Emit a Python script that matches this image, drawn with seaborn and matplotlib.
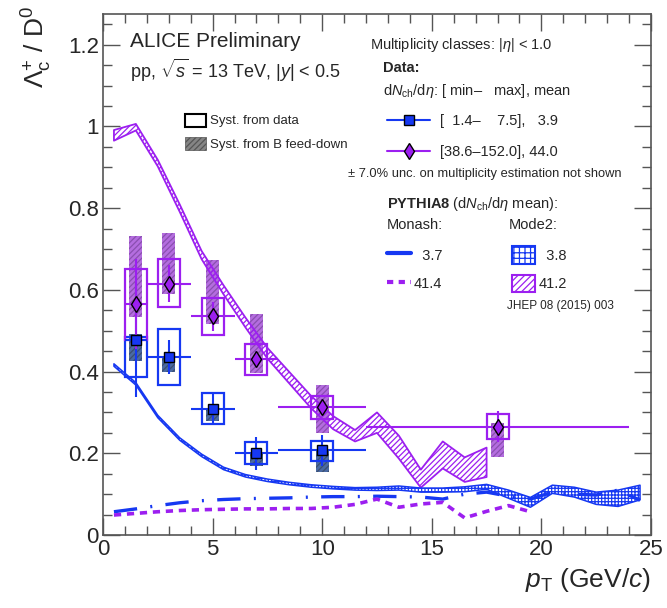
import numpy as np
import pandas as pd
import matplotlib
matplotlib.use("Agg")
import matplotlib.pyplot as plt
import seaborn as sns
from matplotlib.patches import Patch
from matplotlib.lines import Line2D
from matplotlib.ticker import MultipleLocator, FuncFormatter

# ---------------- data ----------------
# low multiplicity class [1.4-7.5], mean 3.9
low_pt = [1.5, 3.0, 5.0, 7.0, 10.0]
low_xerr = [0.5, 1.0, 1.0, 1.0, 2.0]
low_val = [0.477, 0.436, 0.309, 0.200, 0.208]
low_stat = [0.140, 0.042, 0.035, 0.040, 0.038]
low_syst_lo = [0.386, 0.368, 0.271, 0.175, 0.182]
low_syst_hi = [0.484, 0.503, 0.348, 0.227, 0.231]
low_fd_lo = [0.426, 0.400, 0.280, 0.169, 0.155]
low_fd_hi = [0.493, 0.436, 0.309, 0.200, 0.208]

# high multiplicity class [38.6-152.0], mean 44.0
high_pt = [1.5, 3.0, 5.0, 7.0, 10.0, 18.0]
high_xerr = [0.5, 1.0, 1.0, 1.0, 2.0, 6.0]
high_val = [0.566, 0.615, 0.535, 0.431, 0.313, 0.265]
high_stat = [0.110, 0.045, 0.035, 0.020, 0.020, 0.038]
high_syst_lo = [0.478, 0.557, 0.490, 0.391, 0.284, 0.236]
high_syst_hi = [0.652, 0.675, 0.581, 0.467, 0.341, 0.297]
high_fd_lo = [0.534, 0.591, 0.516, 0.396, 0.249, 0.190]
high_fd_hi = [0.732, 0.739, 0.674, 0.542, 0.367, 0.273]

# PYTHIA8 predictions
model_pt = [0.5, 1.5, 2.5, 3.5, 4.5, 5.5, 6.5, 7.5, 8.5, 9.5, 10.5, 11.5,
            12.5, 13.5, 14.5, 15.5, 16.5, 17.5, 18.5, 19.5, 20.5, 21.5,
            22.5, 23.5, 24.5]
# Mode2, 41.2 (band, up to 17.5)
mode2_high = [0.978, 0.998, 0.910, 0.800, 0.685, 0.600, 0.520, 0.445, 0.385,
              0.325, 0.275, 0.243, 0.275, 0.215, 0.138, 0.196, 0.160, 0.178]
mode2_high_err = [0.013, 0.008, 0.008, 0.009, 0.010, 0.011, 0.012, 0.013,
                  0.014, 0.015, 0.016, 0.014, 0.025, 0.028, 0.022, 0.033,
                  0.030, 0.036]
# Mode2, 3.8 (band)
mode2_low = [0.416, 0.370, 0.290, 0.235, 0.195, 0.163, 0.145, 0.134, 0.126,
             0.120, 0.116, 0.113, 0.113, 0.115, 0.110, 0.110, 0.112, 0.118,
             0.100, 0.080, 0.112, 0.105, 0.090, 0.090, 0.104]
mode2_low_err = [0.003, 0.003, 0.003, 0.003, 0.003, 0.003, 0.003, 0.003,
                 0.003, 0.003, 0.003, 0.003, 0.004, 0.005, 0.005, 0.005,
                 0.006, 0.006, 0.010, 0.012, 0.010, 0.012, 0.015, 0.020,
                 0.018]
# Monash, 3.7
monash_low = [0.057, 0.064, 0.072, 0.079, 0.084, 0.087, 0.089, 0.090, 0.091,
              0.093, 0.094, 0.094, 0.095, 0.094, 0.093, 0.088, 0.100, 0.105,
              0.095, 0.088, 0.105, 0.100, 0.098, 0.110, 0.085]
# Monash, 41.4 (up to 19.5)
monash_high = [0.049, 0.053, 0.057, 0.060, 0.062, 0.063, 0.064, 0.064,
               0.065, 0.065, 0.068, 0.075, 0.088, 0.068, 0.076, 0.080,
               0.042, 0.058, 0.072, 0.057]

x_ticks = [0, 5, 10, 15, 20, 25]
y_ticks = [0, 0.2, 0.4, 0.6, 0.8, 1.0, 1.2]

BLUE = "#1638f2"
PURPLE = "#9c1ff0"
BLUE_FD = "#4a6aa3"
PURPLE_FD = "#b46ddf"

# ---------------- style ----------------
sns.set_theme(style="ticks")
plt.rcParams["font.family"] = ["Liberation Sans", "DejaVu Sans"]
plt.rcParams["mathtext.fontset"] = "custom"
plt.rcParams["mathtext.rm"] = "Liberation Sans"
plt.rcParams["mathtext.it"] = "Liberation Sans:italic"
plt.rcParams["mathtext.bf"] = "Liberation Sans:bold"
plt.rcParams["hatch.linewidth"] = 0.9

fig = plt.figure(figsize=(6.67, 6.08), dpi=100)
ax = fig.add_axes([0.1544, 0.12, 0.8216, 0.857])

# ---------------- B feed-down boxes ----------------
ax.bar(low_pt, np.subtract(low_fd_hi, low_fd_lo), bottom=low_fd_lo, width=0.6,
       facecolor=BLUE_FD, edgecolor="#3d4f70", hatch="//////", linewidth=0,
       zorder=2)
ax.bar(high_pt, np.subtract(high_fd_hi, high_fd_lo), bottom=high_fd_lo,
       width=0.6, facecolor=PURPLE_FD, edgecolor="#8a4fb0", hatch="//////",
       linewidth=0, zorder=2)

# ---------------- syst boxes ----------------
ax.bar(low_pt, np.subtract(low_syst_hi, low_syst_lo), bottom=low_syst_lo,
       width=1.0, fill=False, edgecolor=BLUE, linewidth=1.6, zorder=3)
ax.bar(high_pt, np.subtract(high_syst_hi, high_syst_lo), bottom=high_syst_lo,
       width=1.0, fill=False, edgecolor=PURPLE, linewidth=1.6, zorder=3)

# ---------------- PYTHIA Mode2 bands ----------------
n_h = len(mode2_high)
ph = np.array(model_pt[:n_h])
ch = np.array(mode2_high)
eh = np.array(mode2_high_err)
ax.fill_between(ph, ch - eh, ch + eh, facecolor="none", edgecolor=PURPLE,
                hatch="//////", linewidth=1.3, zorder=4)
pl = np.array(model_pt)
cl = np.array(mode2_low)
el = np.array(mode2_low_err)
ax.fill_between(pl, cl - el, cl + el, facecolor="none", edgecolor=BLUE,
                hatch="+++++", linewidth=1.1, zorder=4)

# ---------------- PYTHIA Monash lines ----------------
df_ml = pd.DataFrame({"pt": model_pt, "ratio": monash_low})
df_mh = pd.DataFrame({"pt": model_pt[:len(monash_high)], "ratio": monash_high})
sns.lineplot(data=df_ml, x="pt", y="ratio", ax=ax, color=BLUE, linewidth=2.4,
             linestyle=(0, (7.0, 4.0, 0.6, 4.0)), zorder=4)
sns.lineplot(data=df_mh, x="pt", y="ratio", ax=ax, color=PURPLE,
             linewidth=2.6, linestyle=(0, (2.0, 1.6)), zorder=4)

# ---------------- data points ----------------
ax.errorbar(low_pt, low_val, xerr=low_xerr, yerr=low_stat, fmt="none",
            ecolor=BLUE, elinewidth=1.5, capsize=0, zorder=5)
ax.errorbar(high_pt, high_val, xerr=high_xerr, yerr=high_stat, fmt="none",
            ecolor=PURPLE, elinewidth=1.5, capsize=0, zorder=5)
ax.plot(low_pt, low_val, linestyle="none", marker="s", ms=7.5, mfc=BLUE,
        mec="black", mew=1.0, zorder=6)
ax.plot(high_pt, high_val, linestyle="none", marker="d", ms=8.0, mfc=PURPLE,
        mec="black", mew=1.0, zorder=6)

# ---------------- axes ----------------
ax.set_xlim(0, 25)
ax.set_ylim(0, 1.275)
ax.set_xticks(x_ticks)
ax.set_yticks(y_ticks)
ax.xaxis.set_minor_locator(MultipleLocator(1))
ax.yaxis.set_minor_locator(MultipleLocator(0.05))
fmt = FuncFormatter(lambda v, p: "%g" % round(v, 3))
ax.xaxis.set_major_formatter(fmt)
ax.yaxis.set_major_formatter(fmt)
ax.tick_params(which="both", direction="in", top=True, right=True,
               color="#555555", width=1.0)
ax.tick_params(which="major", length=12, labelsize=16, pad=3)
ax.tick_params(which="minor", length=6.5)
for s in ax.spines.values():
    s.set_color("#555555")
    s.set_linewidth(1.2)
    s.set_visible(True)

ax.set_xlabel(r"$p_{\rm T}$ (GeV/$c$)", fontsize=19, loc="right", labelpad=4)
ax.set_ylabel(r"$\Lambda_{\rm c}^{+}$ / D$^{0}$", fontsize=19, loc="top",
              labelpad=6)
ax.yaxis.set_label_coords(-0.09, 1.015)

# ---------------- texts ----------------
T = ax.transAxes
ax.text(0.049, 0.948, "ALICE Preliminary", transform=T, fontsize=15,
        va="center", ha="left")
ax.text(0.049, 0.891, r"pp, $\sqrt{s}$ = 13 TeV, |$y$| < 0.5", transform=T,
        fontsize=13, va="center", ha="left")
ax.text(0.487, 0.941, r"Multiplicity classes: |$\eta$| < 1.0", transform=T,
        fontsize=10.5, va="center", ha="left")
ax.text(0.511, 0.896, "Data:", transform=T, fontsize=10.5, va="center",
        ha="left", fontweight="bold")
ax.text(0.511, 0.852, r"d$N_{\rm ch}$/d$\eta$: [ min–   max], mean",
        transform=T, fontsize=10.5, va="center", ha="left")
ax.text(0.447, 0.693, "± 7.0% unc. on multiplicity estimation not shown",
        transform=T, fontsize=9.3, va="center", ha="left")
ax.text(0.518, 0.635, r"$\mathbf{PYTHIA8}$ (d$N_{\rm ch}$/d$\eta$ mean):",
        transform=T, fontsize=10.5, va="center", ha="left")
ax.text(0.518, 0.595, "Monash:", transform=T, fontsize=10.5, va="center",
        ha="left")
ax.text(0.741, 0.595, "Mode2:", transform=T, fontsize=10.5, va="center",
        ha="left")
ax.text(0.737, 0.44, "JHEP 08 (2015) 003", transform=T, fontsize=8.5,
        va="center", ha="left")

# ---------------- legends ----------------
leg_syst = ax.legend(
    handles=[Patch(facecolor="white", edgecolor="black", linewidth=1.5),
             Patch(facecolor="#858585", edgecolor="#555555", hatch="//////",
                   linewidth=0.5)],
    labels=["Syst. from data", "Syst. from B feed-down"],
    loc="upper left", bbox_to_anchor=(0.149, 0.809), frameon=False,
    fontsize=9.5, handlelength=1.6, handleheight=1.14, handletextpad=0.3,
    labelspacing=0.75, borderpad=0, borderaxespad=0)
ax.add_artist(leg_syst)

leg_data = ax.legend(
    handles=[Line2D([], [], color=BLUE, lw=1.5, marker="s", ms=7.5, mfc=BLUE,
                    mec="black", mew=1.0),
             Line2D([], [], color=PURPLE, lw=1.5, marker="d", ms=8.0,
                    mfc=PURPLE, mec="black", mew=1.0)],
    labels=["[  1.4–    7.5],   3.9", "[38.6–152.0], 44.0"],
    loc="upper left", bbox_to_anchor=(0.519, 0.808), frameon=False,
    fontsize=10.5, handlelength=2.9, handletextpad=0.7, labelspacing=1.15,
    borderpad=0, borderaxespad=0)
ax.add_artist(leg_data)

leg_mon = ax.legend(
    handles=[Line2D([], [], color=BLUE, lw=3.0),
             Line2D([], [], color=PURPLE, lw=3.0, linestyle=(0, (1.5, 1.3)))],
    labels=["  3.7", "41.4"],
    loc="upper left", bbox_to_anchor=(0.519, 0.554), frameon=False,
    fontsize=10.5, handlelength=1.6, handleheight=1.44, handletextpad=0.2,
    labelspacing=0.78, borderpad=0, borderaxespad=0)
ax.add_artist(leg_mon)

leg_m2 = ax.legend(
    handles=[Patch(facecolor="white", edgecolor=BLUE, hatch="+++",
                   linewidth=1.5),
             Patch(facecolor="white", edgecolor=PURPLE, hatch="/////",
                   linewidth=1.5)],
    labels=["  3.8", "41.2"],
    loc="upper left", bbox_to_anchor=(0.746, 0.554), frameon=False,
    fontsize=10.5, handlelength=1.58, handleheight=1.44, handletextpad=0.24,
    labelspacing=0.78, borderpad=0, borderaxespad=0)

fig.savefig("out.png", dpi=100)
